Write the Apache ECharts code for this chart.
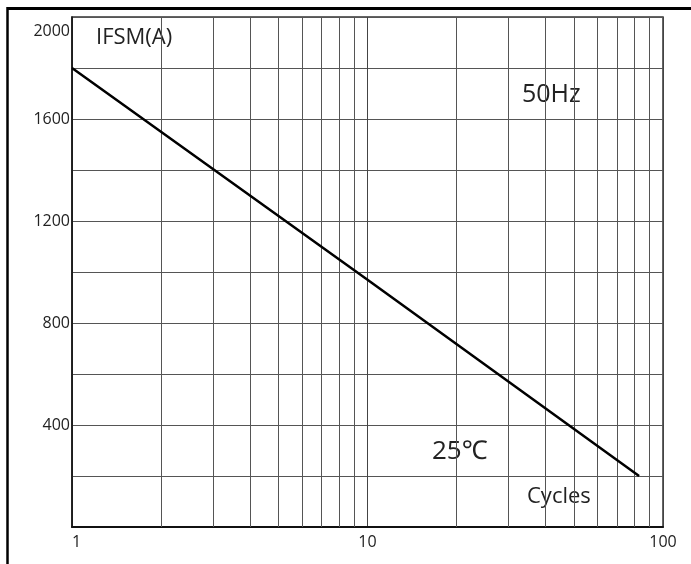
<!DOCTYPE html>
<html>
<head>
<meta charset="utf-8">
<script src="https://cdn.jsdelivr.net/npm/echarts@6/dist/echarts.min.js"></script>
<style>
  html, body { margin: 0; padding: 0; background: #fff; }
  #chart { width: 691px; height: 564px; }
</style>
</head>
<body>
<div id="chart"></div>
<script>
// ---- data ----
const cycles = [1, 10, 83];             // x values (log scale)
const ifsm = [1800, 970, 200];          // IFSM (A)
const minorGridCycles = [2, 3, 4, 5, 6, 7, 8, 9, 20, 30, 40, 50, 60, 70, 80, 90];
const yLabelValues = [400, 800, 1200, 1600, 2000];
const xTitle = 'Cycles';
const yTitle = 'IFSM(A)';
const freqNote = '50Hz';
const tempNote = '25\u2103';

const FONT = '"Open Sans", "Noto Sans", sans-serif';
const chart = echarts.init(document.getElementById('chart'), null, { renderer: 'canvas' });

const option = {
  backgroundColor: '#fff',
  animation: false,
  grid: { left: 72, right: 28, top: 17, bottom: 37, show: true, borderColor: '#333', borderWidth: 1.5 },
  xAxis: {
    type: 'log', logBase: 10, min: 1, max: 100,
    axisLine: { show: true, lineStyle: { color: '#111', width: 2 } },
    axisTick: { show: false },
    splitLine: { show: true, lineStyle: { color: '#444', width: 1 } },
    axisLabel: { color: '#222', fontSize: 16, fontFamily: FONT, margin: 7, alignMinLabel: 'left' }
  },
  yAxis: {
    type: 'value', min: 0, max: 2000, interval: 200,
    axisLine: { show: true, lineStyle: { color: '#111', width: 1.5 } },
    axisTick: { show: false },
    splitLine: { show: true, lineStyle: { color: '#555', width: 1 } },
    axisLabel: {
      color: '#222', fontSize: 16, fontFamily: FONT, margin: 2,
      formatter: function (v) {
        if (yLabelValues.indexOf(v) < 0) return '';
        if (v === 2000) return '{top|' + v + '}';
        return '' + v;
      },
      rich: { top: { fontSize: 16, fontFamily: FONT, color: '#222', padding: [28, 0, 0, 0] } }
    }
  },
  series: [
    {
      type: 'line', data: [], silent: true, z: 1,
      markLine: {
        silent: true, symbol: ['none', 'none'], animation: false,
        label: { show: false },
        lineStyle: { type: 'solid', color: '#555', width: 1 },
        emphasis: { disabled: true },
        data: minorGridCycles.map(v => ({ xAxis: v }))
      }
    },
    {
      type: 'line', z: 5,
      data: cycles.map((c, i) => [c, ifsm[i]]),
      symbol: 'none',
      lineStyle: { color: '#000', width: 2.5 },
      emphasis: { disabled: true }
    }
  ],
  graphic: [
    { type: 'line', shape: { x1: 7, y1: 8.5, x2: 691, y2: 8.5 }, style: { stroke: '#000', lineWidth: 3 } },
    { type: 'line', shape: { x1: 7.5, y1: 7, x2: 7.5, y2: 564 }, style: { stroke: '#000', lineWidth: 2.5 } },
    { type: 'text', left: 96, top: 27, style: { text: yTitle, fontSize: 22, fontFamily: FONT, fill: '#222' } },
    { type: 'text', left: 522, top: 82, style: { text: freqNote, fontSize: 25, fontFamily: FONT, fill: '#222' } },
    { type: 'text', left: 432, top: 439, style: { text: tempNote, fontSize: 26, fontFamily: FONT, fill: '#222' } },
    { type: 'text', left: 527, top: 486, style: { text: xTitle, fontSize: 22, fontFamily: FONT, fill: '#222' } }
  ]
};
chart.setOption(option);
</script>
</body>
</html>
